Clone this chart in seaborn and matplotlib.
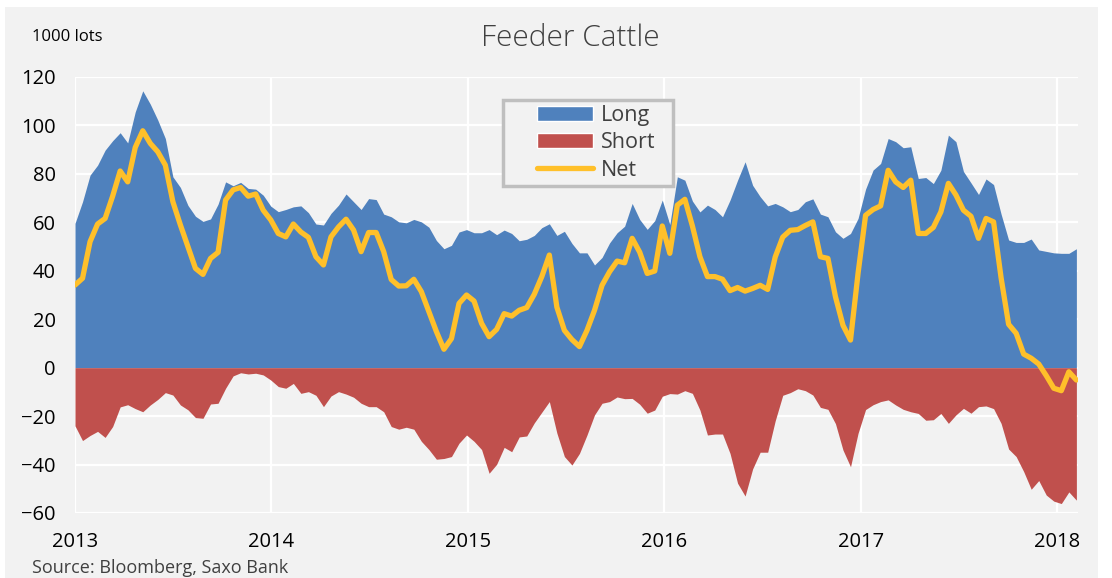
import numpy as np
import pandas as pd
import matplotlib
matplotlib.use("Agg")
import matplotlib.pyplot as plt
import matplotlib.dates as mdates
from matplotlib.patches import Patch, Rectangle
from matplotlib.lines import Line2D
import seaborn as sns

# Feeder cattle COT positioning, 1000 lots, bi-weekly readings from 2013-01-01
long_pos = [59.6, 68.5, 79.5, 83.6, 89.8, 93.7, 97.0, 92.8, 105.6, 114.3,
            108.8, 102.2, 94.6, 78.8, 74.4, 67.0, 62.5, 60.4, 61.4, 67.5,
            76.7, 75.1, 76.5, 74.0, 73.7, 71.2, 66.7, 64.4, 65.3, 66.4,
            66.8, 64.0, 59.3, 58.9, 63.7, 67.1, 71.7, 68.5, 65.3, 69.8,
            69.4, 63.4, 62.3, 60.2, 59.8, 61.2, 60.2, 58.0, 52.5, 49.1,
            50.5, 56.0, 57.0, 55.7, 55.7, 57.0, 54.9, 56.8, 55.4, 52.4,
            53.0, 54.6, 57.8, 59.4, 54.6, 56.3, 51.3, 47.4, 47.4, 42.4,
            45.5, 51.5, 55.7, 58.4, 67.8, 61.2, 57.1, 60.7, 69.2, 59.1,
            78.8, 77.4, 68.8, 64.3, 67.1, 65.3, 62.3, 69.2, 77.4, 85.0,
            75.3, 70.6, 66.8, 67.8, 66.4, 64.4, 65.3, 68.5, 69.7, 63.4,
            62.3, 56.1, 53.4, 55.4, 61.6, 73.7, 81.6, 84.3, 94.6, 93.3,
            90.8, 91.2, 78.1, 78.5, 76.0, 81.5, 96.0, 93.3, 81.0, 76.3,
            71.5, 77.9, 75.6, 63.4, 52.7, 51.7, 51.7, 53.1, 48.6, 48.0,
            47.4, 47.2, 47.2, 49.1]

short_pos = [-24.0, -30.1, -28.0, -26.3, -28.8, -24.3, -16.2, -15.3, -16.9, -18.2,
             -15.4, -13.1, -10.3, -11.3, -15.4, -17.4, -20.6, -20.9, -15.0, -14.7,
             -8.5, -3.4, -2.1, -2.6, -2.3, -3.0, -5.1, -7.8, -8.5, -6.5,
             -10.6, -9.9, -11.4, -16.1, -11.7, -9.9, -10.9, -12.2, -14.7, -16.1,
             -16.1, -18.2, -24.3, -25.4, -24.6, -25.4, -30.4, -33.8, -37.8, -37.5,
             -36.7, -31.2, -27.8, -30.4, -33.8, -43.6, -39.9, -32.9, -34.7, -28.6,
             -28.2, -22.8, -18.4, -14.0, -27.0, -36.7, -40.2, -35.4, -27.8, -19.5,
             -14.7, -14.0, -12.1, -12.8, -12.7, -15.1, -18.8, -17.5, -11.8, -10.7,
             -10.9, -9.5, -10.6, -17.5, -27.8, -27.4, -27.4, -35.4, -47.7, -53.0,
             -41.8, -34.9, -34.9, -21.9, -11.4, -10.3, -8.7, -9.5, -11.3, -16.4,
             -17.2, -23.1, -34.0, -40.9, -27.1, -17.3, -15.3, -14.0, -13.3, -15.4,
             -17.2, -18.2, -18.9, -21.7, -21.5, -18.9, -23.0, -19.5, -16.8, -18.8,
             -16.1, -15.8, -16.9, -23.0, -33.6, -36.7, -42.9, -50.2, -46.6, -52.6,
             -55.1, -56.1, -51.3, -54.7]

net_pos = [34.1, 36.9, 52.0, 59.3, 61.6, 70.8, 81.2, 76.7, 90.9, 97.8,
           92.6, 89.1, 83.6, 68.5, 58.9, 50.0, 41.0, 38.5, 45.1, 47.6,
           69.2, 73.4, 74.4, 70.8, 71.7, 65.0, 61.0, 55.4, 54.0, 59.3,
           56.0, 53.8, 45.8, 42.4, 54.0, 58.1, 61.3, 56.8, 47.9, 55.8,
           55.8, 47.9, 36.4, 33.7, 33.8, 36.5, 31.4, 23.1, 14.9, 7.6,
           12.0, 26.5, 30.0, 27.5, 18.3, 12.8, 15.8, 22.3, 21.3, 23.7,
           24.8, 30.3, 37.6, 46.5, 25.0, 15.4, 11.6, 8.7, 15.4, 23.7,
           34.0, 39.6, 44.0, 43.3, 53.4, 47.7, 38.9, 39.9, 58.5, 47.2,
           67.1, 69.5, 58.5, 45.8, 37.6, 37.6, 36.5, 31.8, 33.1, 31.6,
           32.7, 34.0, 32.3, 45.7, 53.9, 56.7, 57.0, 58.7, 60.2, 45.8,
           45.1, 29.3, 17.5, 11.4, 38.9, 62.9, 65.3, 66.8, 81.5, 76.7,
           74.4, 77.4, 55.4, 55.4, 57.9, 64.3, 76.1, 71.3, 65.0, 62.5,
           53.4, 61.6, 60.2, 37.1, 17.9, 14.2, 5.6, 3.9, 1.5, -3.3,
           -8.5, -9.5, -1.7, -5.1]

years = [2013, 2014, 2015, 2016, 2017, 2018]

dates = pd.date_range('2013-01-01', periods=len(long_pos), freq='14D')
df = pd.DataFrame({'date': dates, 'Long': long_pos, 'Short': short_pos, 'Net': net_pos})

c_long = '#4f81bd'
c_short = '#c0504d'
c_net = '#ffc02a'
bg = '#f2f2f2'
txt = '#404040'

sns.set_theme(style='whitegrid')
plt.rcParams['font.family'] = ['Open Sans', 'DejaVu Sans']

fig = plt.figure(figsize=(11.12, 5.78), dpi=100, facecolor='white')
fig.patches.append(Rectangle((5 / 1112, 0), 1093 / 1112, 571 / 578, transform=fig.transFigure,
                             facecolor=bg, edgecolor='none', zorder=-10))
ax = fig.add_axes([75 / 1112, 65 / 578, 1003 / 1112, 436 / 578])
ax.set_facecolor(bg)

ax.fill_between(df['date'], 0, df['Long'], color=c_long, linewidth=0, zorder=2)
ax.fill_between(df['date'], df['Short'], 0, color=c_short, linewidth=0, zorder=2)
sns.lineplot(data=df, x='date', y='Net', color=c_net, linewidth=3.8, ax=ax, zorder=3,
             legend=False, solid_capstyle='round', solid_joinstyle='round')

ax.set_ylim(-60, 120)
ax.set_yticks(range(-60, 121, 20))
ax.set_xlim(pd.Timestamp('2013-01-01'), pd.Timestamp('2018-02-09'))
ax.set_xticks([pd.Timestamp(f'{y}-01-01') for y in years])
ax.xaxis.set_major_formatter(mdates.DateFormatter('%Y'))
ax.set_xlabel('')
ax.set_ylabel('')
ax.grid(True, color='white', linewidth=1.6)
ax.set_axisbelow(True)
for s in ax.spines.values():
    s.set_visible(False)
ax.tick_params(axis='both', length=0, labelsize=14.5, colors='black')
ax.tick_params(axis='y', pad=14)
ax.tick_params(axis='x', pad=14)

fig.text(570 / 1112, 1 - 38 / 578, 'Feeder Cattle', ha='center', va='center',
         fontsize=21.5, color=txt, fontweight='light')
fig.text(32 / 1112, 1 - 37 / 578, '1000 lots', ha='left', va='center', fontsize=12, color='black')
fig.text(32 / 1112, 1 - 568 / 578, 'Source: Bloomberg, Saxo Bank', ha='left', va='center',
         fontsize=13, color=txt)

# legend frame drawn separately so the padding matches the reference box
frame = Rectangle((503 / 1112, 1 - 186 / 578), 170 / 1112, 86 / 578, transform=fig.transFigure,
                  facecolor=bg, edgecolor='#bfbfbf', linewidth=2.5, zorder=4)
ax.add_patch(frame)
frame.set_clip_on(False)

handles = [Patch(facecolor=c_long, label='Long'),
           Patch(facecolor=c_short, label='Short'),
           Line2D([0], [0], color=c_net, linewidth=3.8, solid_capstyle='round', label='Net')]
leg = ax.legend(handles=handles, loc='center left', bbox_to_anchor=(537 / 1112, 1 - 143 / 578),
                bbox_transform=fig.transFigure, fontsize=15.5, frameon=False, borderaxespad=0,
                handlelength=2.6, handleheight=0.7, labelspacing=0.3, borderpad=0,
                handletextpad=0.35)
leg.set_zorder(5)
for t in leg.get_texts():
    t.set_color(txt)

fig.savefig('out.png', dpi=100, facecolor=fig.get_facecolor())
